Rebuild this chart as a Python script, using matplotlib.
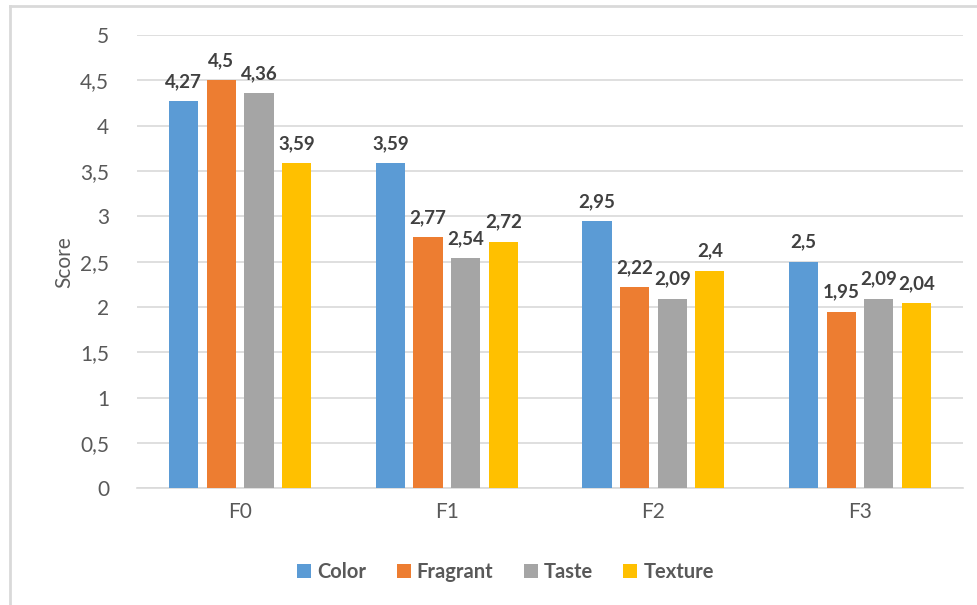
import matplotlib.pyplot as plt
from matplotlib.lines import Line2D
import numpy as np

plt.rcParams["font.family"] = ["Lato", "DejaVu Sans"]

CATEGORIES = ["F0", "F1", "F2", "F3"]
SERIES = ["Color", "Fragrant", "Taste", "Texture"]
COLOR = [4.27, 3.59, 2.95, 2.5]
FRAGRANT = [4.5, 2.77, 2.22, 1.95]
TASTE = [4.36, 2.54, 2.09, 2.09]
TEXTURE = [3.59, 2.72, 2.4, 2.04]
Y_TICKS = [0, 0.5, 1, 1.5, 2, 2.5, 3, 3.5, 4, 4.5, 5]

BAR_COLORS = ["#5B9BD5", "#ED7D31", "#A5A5A5", "#FFC000"]


def fmt(v):
    return f"{v:g}".replace(".", ",")


fig = plt.figure(figsize=(9.78, 6.05), dpi=100)
ax = fig.add_axes([0.140, 0.193, 0.845, 0.749])

x = np.arange(len(CATEGORIES))
pitch = 0.182
width = 0.142
values = [COLOR, FRAGRANT, TASTE, TEXTURE]
for i, (name, vals) in enumerate(zip(SERIES, values)):
    pos = x + (i - 1.5) * pitch
    bars = ax.bar(pos, vals, width=width, color=BAR_COLORS[i], label=name, zorder=3)
    for b, v in zip(bars, vals):
        ax.annotate(fmt(v), (b.get_x() + b.get_width() / 2, v),
                    xytext=(0, 8), textcoords="offset points",
                    ha="center", va="bottom", fontsize=13.5, fontweight="bold",
                    color="#404040")

ax.set_xlim(-0.5, 3.5)
ax.set_ylim(0, 5)
ax.set_yticks(Y_TICKS)
ax.set_yticklabels([fmt(t) for t in Y_TICKS], fontsize=15, color="#595959")
ax.set_xticks(x)
ax.set_xticklabels(CATEGORIES, fontsize=15, color="#595959")
ax.tick_params(length=0, pad=10)
ax.tick_params(axis="y", pad=20)
ax.grid(axis="y", color="#D9D9D9", linewidth=1.2, zorder=0)
for s in ["top", "right", "left"]:
    ax.spines[s].set_visible(False)
ax.spines["bottom"].set_color("#D9D9D9")
ax.spines["bottom"].set_linewidth(1.2)
ax.set_ylabel("Score", fontsize=15, color="#595959", labelpad=4)

fig.legend(loc="center", bbox_to_anchor=(0.517, 0.054), ncol=4, frameon=False,
           handlelength=0.7, handleheight=0.7, handletextpad=0.3,
           columnspacing=1.5, labelcolor="#595959",
           prop={"weight": "bold", "size": 14.5})

# outer chart frame (only top and left are visible in the screenshot)
fig.add_artist(Line2D([10 / 978, 10 / 978], [0, 1 - 6 / 605],
                      transform=fig.transFigure, color="#D9D9D9", linewidth=2))
fig.add_artist(Line2D([10 / 978, 1], [1 - 6 / 605, 1 - 6 / 605],
                      transform=fig.transFigure, color="#D9D9D9", linewidth=2))

fig.savefig("out.png", dpi=100)
